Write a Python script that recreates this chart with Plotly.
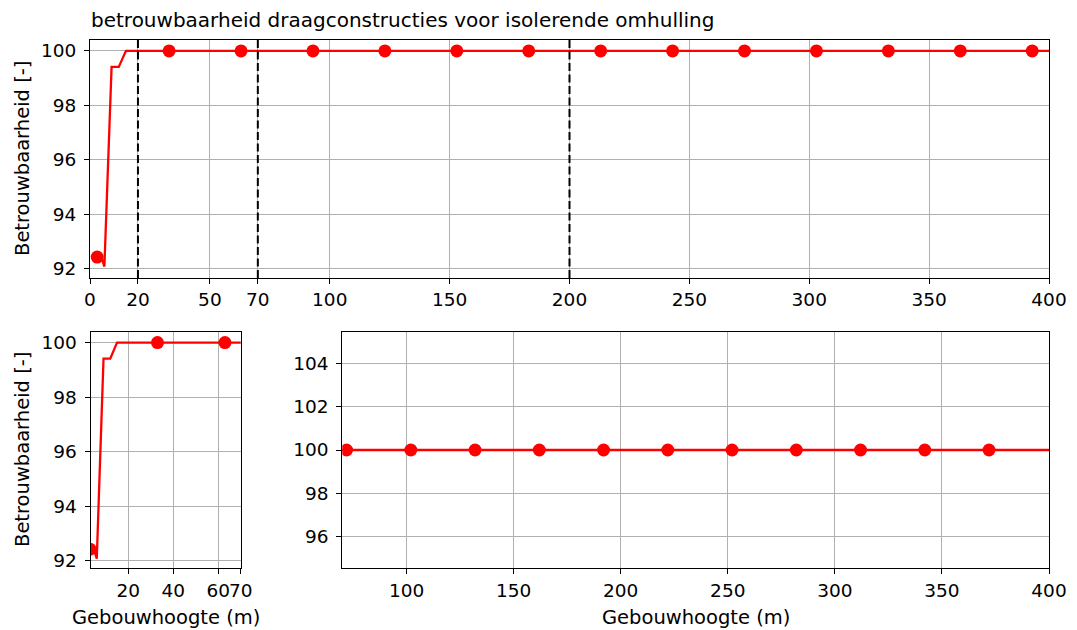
import plotly.graph_objects as go

# ---------------- data ----------------
heights = [3, 4, 5, 6, 9, 12, 15, 100, 200, 300, 400]
reliability = [92.5, 92.45, 92.35, 92.07, 99.41, 99.41, 100.0, 100.0, 100.0, 100.0, 100.0]

marker_heights = [3, 33, 63, 93, 123, 153, 183, 213, 243, 273, 303, 333, 363, 393]
marker_values = [92.42, 100, 100, 100, 100, 100, 100, 100, 100, 100, 100, 100, 100, 100]

marker_heights_high = [72, 102, 132, 162, 192, 222, 252, 282, 312, 342, 372]
marker_values_high = [100, 100, 100, 100, 100, 100, 100, 100, 100, 100, 100]

boundaries = [20, 70, 200]

top_ticks = [0, 20, 50, 70, 100, 150, 200, 250, 300, 350, 400]
low_ticks = [20, 40, 60, 70]
high_ticks = [100, 150, 200, 250, 300, 350, 400]
y_ticks = [92, 94, 96, 98, 100]
y_ticks_high = [96, 98, 100, 102, 104]

title = "betrouwbaarheid draagconstructies voor isolerende omhulling"
ylabel = "Betrouwbaarheid [-]"
xlabel = "Gebouwhoogte (m)"

# ---------------- figure ----------------
W, H = 1077, 630
RED = "red"
FONT = "DejaVu Sans"
FS_TICK = 18.5
FS_LABEL = 19.5
FS_TITLE = 20

def px(x):
    return x / W

def py(y):
    return 1 - y / H

fig = go.Figure()

panels = [("x", "y", marker_heights, marker_values),
          ("x2", "y2", marker_heights, marker_values),
          ("x3", "y3", marker_heights_high, marker_values_high)]
for xa, ya, mh, mv in panels:
    fig.add_trace(go.Scatter(x=heights, y=reliability, mode="lines",
                             line=dict(color=RED, width=2.3),
                             xaxis=xa, yaxis=ya, showlegend=False, hoverinfo="skip"))
    fig.add_trace(go.Scatter(x=mh, y=mv, mode="markers",
                             marker=dict(color=RED, size=13, line=dict(width=0)),
                             xaxis=xa, yaxis=ya, showlegend=False))

for b in boundaries:
    fig.add_shape(type="line", x0=b, x1=b, y0=0, y1=1, xref="x", yref="y domain",
                  line=dict(color="black", width=2, dash="8px,3.5px"))

axis_common = dict(showgrid=True, gridcolor="#b0b0b0", gridwidth=1.1,
                   showline=True, linecolor="black", linewidth=1.2, mirror=True,
                   ticks="outside", ticklen=5, tickwidth=1.1, tickcolor="black",
                   zeroline=False, automargin=False,
                   tickfont=dict(family=FONT, size=FS_TICK, color="black"),
                   tickangle=0)
y_common = dict(axis_common, ticklabelstandoff=4)

top_dom_y = [py(278), py(40)]
bot_dom_y = [py(568.3), py(331.7)]

fig.update_layout(
    width=W, height=H,
    margin=dict(l=0, r=0, t=0, b=0, pad=0),
    paper_bgcolor="white", plot_bgcolor="white",
    font=dict(family=FONT, size=FS_TICK, color="black"),
    xaxis=dict(domain=[px(90), px(1049)], range=[0, 400], tickvals=top_ticks,
               anchor="y", **axis_common),
    yaxis=dict(domain=top_dom_y, range=[91.65, 100.4], tickvals=y_ticks,
               anchor="x", **y_common),
    xaxis2=dict(domain=[px(90.7), px(240.7)], range=[3.3, 70], tickvals=low_ticks,
                anchor="y2", **axis_common),
    yaxis2=dict(domain=bot_dom_y, range=[91.72, 100.4], tickvals=y_ticks,
                anchor="x2", **y_common),
    xaxis3=dict(domain=[px(342.3), px(1049)], range=[70, 400], tickvals=high_ticks,
                anchor="y3", **axis_common),
    yaxis3=dict(domain=bot_dom_y, range=[94.5, 105.5], tickvals=y_ticks_high,
                anchor="x3", **y_common),
)

annotations = [
    dict(text=title, x=px(89), y=py(20), xanchor="left", yanchor="middle", size=FS_TITLE),
    dict(text=ylabel, x=px(22), y=py(159), textangle=-90, xanchor="center", yanchor="middle", size=FS_LABEL),
    dict(text=ylabel, x=px(22), y=py(450), textangle=-90, xanchor="center", yanchor="middle", size=FS_LABEL),
    dict(text=xlabel, x=px(165.7), y=py(617), xanchor="center", yanchor="middle", size=FS_LABEL),
    dict(text=xlabel, x=px(695.6), y=py(617), xanchor="center", yanchor="middle", size=FS_LABEL),
]
for a in annotations:
    size = a.pop("size")
    fig.add_annotation(xref="paper", yref="paper", showarrow=False,
                       font=dict(family=FONT, size=size, color="black"), **a)

fig.write_html("out.html")
